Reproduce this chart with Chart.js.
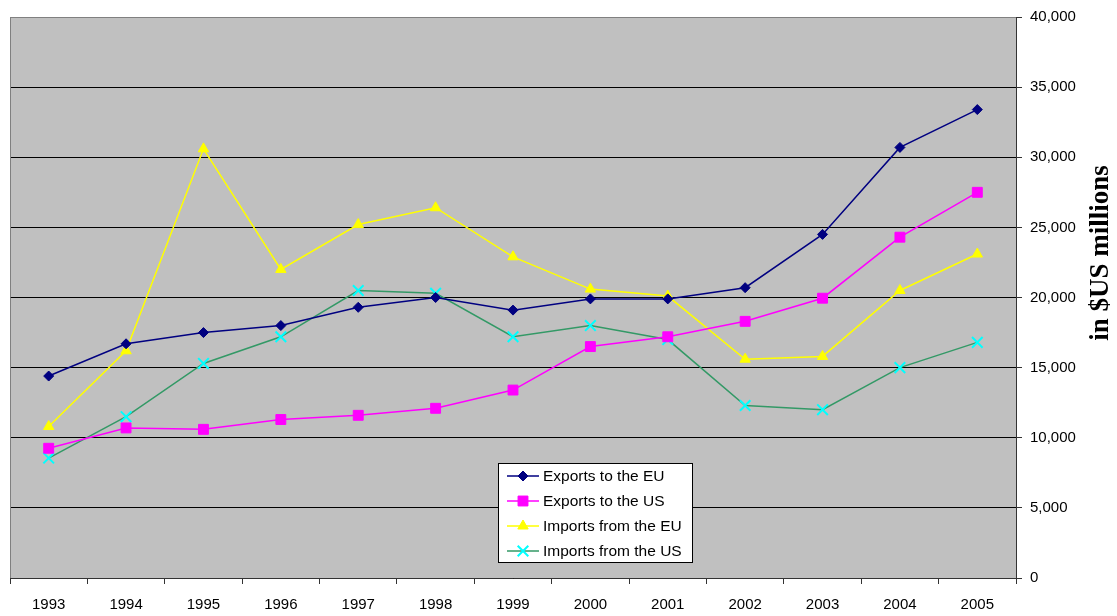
<!DOCTYPE html>
<html>
<head>
<meta charset="utf-8">
<title>Exports and imports</title>
<script src="https://cdn.jsdelivr.net/npm/chart.js"></script>
<style>
  body { margin: 0; background: #fff; }
</style>
</head>
<body>
<canvas id="chart" width="1117" height="616"></canvas>
<script>
// valores (em milhoes de US$)
const years = ['1993', '1994', '1995', '1996', '1997', '1998', '1999', '2000', '2001', '2002', '2003', '2004', '2005'];
const exportsEU = [14400, 16700, 17500, 18000, 19300, 20000, 19100, 19900, 19900, 20700, 24500, 30700, 33400];
const exportsUS = [9250, 10700, 10600, 11300, 11600, 12100, 13400, 16500, 17200, 18300, 19950, 24300, 27500];
const importsEU = [10800, 16200, 30600, 22000, 25200, 26400, 22900, 20600, 20100, 15600, 15800, 20500, 23100];
const importsUS = [8550, 11500, 15300, 17200, 20500, 20300, 17200, 18000, 17000, 12300, 12000, 15000, 16800];
const yTicks = [0, 5000, 10000, 15000, 20000, 25000, 30000, 35000, 40000];
const axisTitle = 'in $US millions';

Chart.defaults.font.family = '"Liberation Sans", Arial, sans-serif';
Chart.defaults.font.size = 15;
Chart.defaults.color = '#000';

function serie(label, data, line, mark, style, radius, markWidth) {
	return {
		label: label, data: data,
		borderColor: line, backgroundColor: mark,
		pointBackgroundColor: mark, pointBorderColor: mark,
		pointStyle: style, pointRadius: radius, pointHoverRadius: radius,
		pointBorderWidth: markWidth, borderWidth: 1.5, tension: 0
	};
}

// fundo cinza + bordas do plot
const plotArea = {
	id: 'plotArea',
	beforeDraw(chart) {
		const {ctx, chartArea: a} = chart;
		ctx.save();
		ctx.fillStyle = '#C0C0C0';
		ctx.fillRect(a.left, a.top, a.right - a.left, a.bottom - a.top);
		ctx.restore();
	},
	beforeDatasetsDraw(chart) {
		const {ctx, chartArea: a} = chart;
		ctx.save();
		ctx.strokeStyle = '#808080';
		ctx.lineWidth = 1;
		ctx.beginPath();
		ctx.moveTo(a.left + 0.5, a.bottom);
		ctx.lineTo(a.left + 0.5, a.top + 0.5);
		ctx.lineTo(a.right, a.top + 0.5);
		ctx.stroke();
		ctx.restore();
	}
};

// legenda dentro do plot e titulo do eixo
const boxLegend = {
	id: 'boxLegend',
	afterDraw(chart) {
		const ctx = chart.ctx;
		ctx.save();
		ctx.fillStyle = '#fff';
		ctx.fillRect(498, 463, 194, 99);
		ctx.strokeStyle = '#000';
		ctx.lineWidth = 1;
		ctx.strokeRect(498.5, 463.5, 194, 99);

		chart.data.datasets.forEach((ds, i) => {
			let y = 476 + i * 25;
			ctx.strokeStyle = ds.borderColor;
			ctx.lineWidth = 1.5;
			ctx.beginPath();
			ctx.moveTo(507, y);
			ctx.lineTo(539, y);
			ctx.stroke();
			ctx.fillStyle = ds.pointBackgroundColor;
			ctx.strokeStyle = ds.pointBorderColor;
			ctx.lineWidth = ds.pointBorderWidth;
			if (Chart.helpers && Chart.helpers.drawPoint) {
				Chart.helpers.drawPoint(ctx, {pointStyle: ds.pointStyle, radius: ds.pointRadius, rotation: 0, borderWidth: ds.pointBorderWidth}, 523, y);
			}
			ctx.fillStyle = '#000';
			ctx.font = '15.5px "Liberation Sans", Arial, sans-serif';
			ctx.textAlign = 'left';
			ctx.textBaseline = 'middle';
			ctx.fillText(ds.label, 543, y + 1);
		});

		ctx.translate(1108, 253);
		ctx.rotate(-Math.PI / 2);
		ctx.fillStyle = '#000';
		ctx.font = 'bold 27px "Liberation Serif", "Times New Roman", serif';
		ctx.textAlign = 'center';
		ctx.textBaseline = 'alphabetic';
		ctx.fillText(axisTitle, 0, 0);
		ctx.restore();
	}
};

let myChart = new Chart(document.getElementById('chart'), {
	type: 'line',
	data: {
		labels: years,
		datasets: [
			serie('Exports to the EU', exportsEU, '#000080', '#000080', 'rectRot', 5, 1),
			serie('Exports to the US', exportsUS, '#FF00FF', '#FF00FF', 'rect', 7, 1),
			serie('Imports from the EU', importsEU, '#FFFF00', '#FFFF00', 'triangle', 6, 1),
			serie('Imports from the US', importsUS, '#339966', '#00FFFF', 'crossRot', 7.5, 2)
		]
	},
	options: {
		responsive: false,
		animation: false,
		layout: {padding: {left: 10, top: 16, right: 0, bottom: 0}},
		plugins: {legend: {display: false}, tooltip: {enabled: false}},
		scales: {
			x: {
				offset: true,
				grid: {offset: true, drawOnChartArea: false, drawTicks: true, tickLength: 6, tickColor: '#333'},
				border: {display: true, color: '#333', width: 1},
				ticks: {padding: 12, maxRotation: 0, autoSkip: false},
				afterFit: (s) => { s.height = 38; }
			},
			y: {
				position: 'right',
				min: 0, max: 40000,
				afterBuildTicks: (s) => { s.ticks = yTicks.map((v) => ({value: v})); },
				grid: {
					color: (c) => c.tick && c.tick.value == 40000 ? '#808080' : '#000',
					tickColor: '#333', tickLength: 6, lineWidth: 1
				},
				border: {display: true, color: '#333', width: 1},
				ticks: {padding: 8, callback: (v) => v.toLocaleString('en-US')},
				afterFit: (s) => { s.width = 101; }
			}
		}
	},
	plugins: [plotArea, boxLegend]
});
</script>
</body>
</html>
